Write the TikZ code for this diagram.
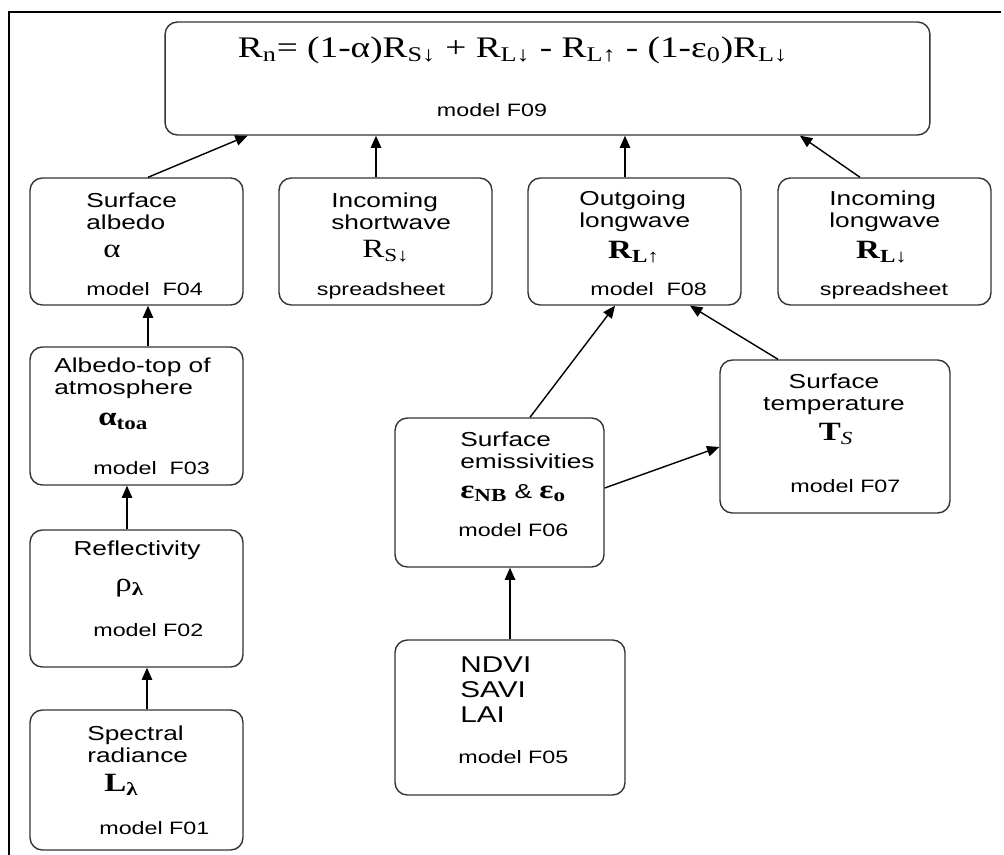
\documentclass[tikz,border=0pt]{standalone}
\usepackage{fontspec}
\usetikzlibrary{arrows.meta}
\newfontfamily\labfont{Liberation Sans}[FakeStretch=1.3]
\newfontfamily\symfont{Liberation Serif}[FakeStretch=1.25]

\begin{document}
\begin{tikzpicture}[x=0.02cm, y=-0.02cm,
    box/.style={draw=black!80, line width=0.8pt, rounded corners=7pt, minimum width=4.26cm, minimum height=2.54cm},
    lbl/.style={font=\labfont\fontsize{11.5}{12.5}\selectfont, inner sep=0pt, anchor=west, align=left},
    mdl/.style={font=\labfont\fontsize{10.2}{12.5}\selectfont, inner sep=0pt, anchor=west},
    sym/.style={font=\symfont\fontsize{15}{17}\selectfont, inner sep=0pt},
    bsym/.style={sym, font=\symfont\bfseries\fontsize{15}{17}\selectfont},
    arr/.style={-{Triangle[length=7pt, width=6pt]}, line width=0.8pt}]
  \useasboundingbox (0,0) rectangle (1004,855);
  \draw[line width=1.6pt] (9,855) -- (9,12) -- (1001,12); % frame

  % net radiation
  \node[box, minimum width=15.3cm, minimum height=2.26cm] (rn) at (547.5,78.5) {};
  \node[sym, font=\symfont\fontsize{17}{20}\selectfont] (rnf) at (513,50)
    {R\textsubscript{n}= (1-α)R\textsubscript{S↓} + R\textsubscript{L↓} - R\textsubscript{L↑} - (1-ε\textsubscript{0})R\textsubscript{L↓}};
  \node[mdl, anchor=center] (rnm) at (492,110) {model F09};

  % second row
  \node[box] (alb) at (136.5,241.5) {};
  \node[lbl] (albt) at (86,211) {Surface\\albedo};
  \node[sym] (albs) at (112,251) {α};
  \node[mdl] (albm) at (86,289) {model\ \ F04};

  \node[box] (rsd) at (385.5,241.5) {};
  \node[lbl] (rsdt) at (331,211) {Incoming\\shortwave};
  \node[sym] (rsds) at (386,251) {R\textsubscript{S↓}};
  \node[mdl, anchor=center] (rsdm) at (381,291) {spreadsheet};

  \node[box] (rlu) at (634.5,241.5) {};
  \node[lbl] (rlut) at (579,211) {Outgoing\\longwave};
  \node[bsym] (rlus) at (634,252) {R\textsubscript{L↑}};
  \node[mdl] (rlum) at (590,289) {model\ \ F08};

  \node[box] (rld) at (884.5,241.5) {};
  \node[lbl] (rldt) at (829,211) {Incoming\\longwave};
  \node[bsym] (rlds) at (882,252) {R\textsubscript{L↓}};
  \node[mdl, anchor=center] (rldm) at (884,291) {spreadsheet};

  % left column
  \node[box, minimum height=2.76cm] (toa) at (136.5,416) {};
  \node[lbl] (toat) at (54,378) {Albedo-top of\\atmosphere};
  \node[bsym, anchor=west] (toas) at (98,421) {α\textsubscript{toa}};
  \node[mdl] (toam) at (93,468) {model\ \ F03};

  \node[box, minimum height=2.74cm] (rho) at (136.5,598.5) {};
  \node[lbl, anchor=center] (rhot) at (137,550) {Reflectivity};
  \node[sym, anchor=west] (rhos) at (115,588) {ρ\textsubscript{\bfseries λ}};
  \node[mdl] (rhom) at (93,630) {model F02};

  \node[box, minimum height=2.8cm] (spec) at (136.5,780) {};
  \node[lbl] (spect) at (87,744) {Spectral\\radiance};
  \node[bsym, anchor=west] (specs) at (104,785) {L\textsubscript{λ}};
  \node[mdl] (specm) at (99,828) {model F01};

  % right part
  \node[box, minimum width=4.18cm, minimum height=2.98cm] (emis) at (499.5,492.5) {};
  \node[lbl] (emist) at (460,450) {Surface\\emissivities};
  \node[lbl] (emiss) at (460,493) {{\symfont\bfseries\fontsize{15}{17}\selectfont ε\textsubscript{NB}} \& {\symfont\bfseries\fontsize{15}{17}\selectfont ε\textsubscript{o}}};
  \node[mdl] (emism) at (458,530) {model F06};

  \node[box, minimum width=4.6cm, minimum height=3.06cm] (ts) at (835,436.5) {};
  \node[lbl, align=center, anchor=center] (tst) at (834,394) {Surface\\temperature};
  \node[sym] (tss) at (836,434) {\bfseries T\textsubscript{\mdseries\itshape S}};
  \node[mdl] (tsm) at (790,486) {model F07};

  \node[box, minimum width=4.6cm, minimum height=3.1cm] (veg) at (510,717.5) {};
  \node[lbl, font=\labfont\fontsize{13}{14.2}\selectfont] (vegt) at (460,690) {NDVI\\SAVI\\LAI};
  \node[mdl] (vegm) at (458,757) {model F05};

  % arrows
  \draw[arr] ([xshift=0.23cm]alb.north) -- ([xshift=-6cm]rn.south);
  \draw[arr] ([xshift=-0.19cm]rsd.north) -- ([xshift=-0.19cm]rsd.north |- rn.south);
  \draw[arr] ([xshift=-0.19cm]rlu.north) -- ([xshift=-0.19cm]rlu.north |- rn.south);
  \draw[arr] ([xshift=-0.49cm]rld.north) -- ([xshift=5.05cm]rn.south);
  \draw[arr] ([xshift=0.23cm]toa.north) -- ([xshift=0.23cm]alb.south);
  \draw[arr] ([xshift=-0.19cm]rho.north) -- ([xshift=-0.19cm]toa.south);
  \draw[arr] ([xshift=0.21cm]spec.north) -- ([xshift=0.21cm]rho.south);
  \draw[arr] (veg.north) -- (veg.north |- emis.south);
  \draw[arr] ([xshift=0.61cm]emis.north) -- ([xshift=-0.39cm]rlu.south);
  \draw[arr] ([yshift=0.09cm]emis.east) -- ([yshift=-0.21cm]ts.west);
  \draw[arr] ([xshift=-1.14cm]ts.north) -- ([xshift=1.11cm]rlu.south);
\end{tikzpicture}
\end{document}
